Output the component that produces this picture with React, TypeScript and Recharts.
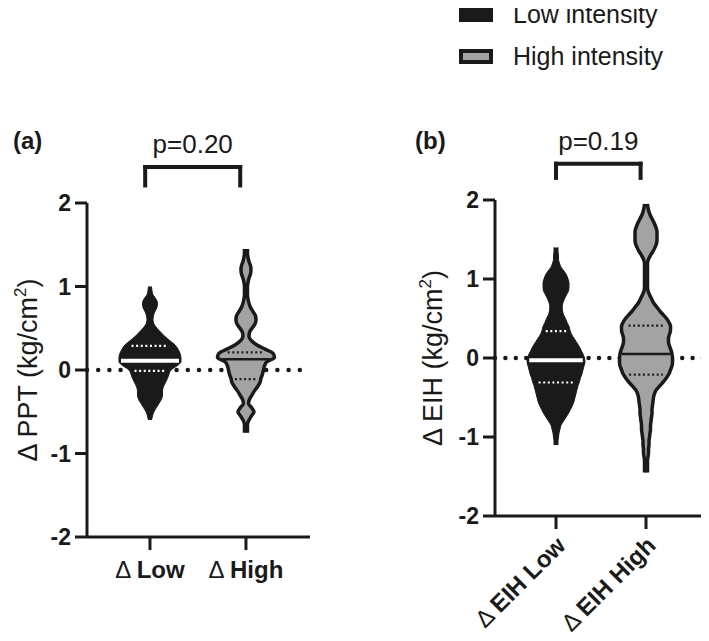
import React from 'react';
import { ComposedChart, Area, XAxis, YAxis, ReferenceLine, Label, CartesianGrid } from 'recharts';

const FONT = '"Liberation Sans", Arial, Helvetica, sans-serif';
const INK = '#1a1a1a';
const GRAY = '#a3a3a3';

const legendNames = ['Low intensity', 'High intensity'];
const violinFills = [INK, GRAY];
const yTicks = [-2, -1, 0, 1, 2];
const categoryTicks = [1, 2];
const zeroLine = [0];

const pptCategories = ['Low', 'High'];
const eihCategories = ['EIH Low', 'EIH High'];
const pptPValue = 'p=0.20';
const eihPValue = 'p=0.19';

// [q1, median, q3]
const pptLowQuartiles = [-0.01, 0.11, 0.29];
const pptHighQuartiles = [-0.11, 0.13, 0.21];
const eihLowQuartiles = [-0.31, -0.03, 0.34];
const eihHighQuartiles = [-0.21, 0.05, 0.41];

// violin density profiles: [level, density]
const pptLowProfile = [
  [1.0, 1.5], [0.95, 2], [0.9, 3], [0.85, 6], [0.8, 7.5], [0.75, 7], [0.7, 5], [0.65, 3.5],
  [0.6, 3], [0.55, 4], [0.5, 7], [0.45, 11], [0.4, 15], [0.35, 20], [0.3, 25], [0.25, 28],
  [0.2, 30], [0.15, 31], [0.1, 31], [0.05, 27], [0.0, 21], [-0.05, 19], [-0.1, 17.5],
  [-0.15, 15.5], [-0.2, 13.5], [-0.25, 12.5], [-0.3, 12.5], [-0.35, 11.5], [-0.4, 9],
  [-0.45, 6.5], [-0.5, 4], [-0.55, 2.5], [-0.6, 1.5],
];
const pptHighProfile = [
  [1.45, 1.5], [1.4, 1.5], [1.35, 2], [1.3, 3], [1.25, 4.5], [1.2, 5], [1.15, 4.5], [1.1, 3],
  [1.05, 2], [1.0, 1.5], [0.95, 1.5], [0.9, 1.5], [0.85, 2], [0.8, 3], [0.75, 4.5], [0.7, 7],
  [0.65, 9.5], [0.6, 10], [0.55, 9], [0.5, 6], [0.45, 3.5], [0.4, 3], [0.35, 5.5], [0.3, 11],
  [0.25, 19], [0.2, 27], [0.15, 28.5], [0.1, 21], [0.05, 18.5], [0.0, 17.5], [-0.05, 16.5],
  [-0.1, 15], [-0.15, 14], [-0.2, 11.5], [-0.25, 8.5], [-0.3, 6], [-0.35, 3.5], [-0.4, 2.5],
  [-0.45, 5.5], [-0.5, 8], [-0.55, 5.5], [-0.6, 3], [-0.65, 1.5], [-0.7, 1.5], [-0.75, 1.5],
];
const eihLowProfile = [
  [1.4, 2], [1.35, 2], [1.3, 2.5], [1.25, 2.5], [1.2, 3.5], [1.15, 5], [1.1, 8], [1.05, 10.5],
  [1.0, 12], [0.95, 13], [0.9, 13], [0.85, 12.5], [0.8, 10.5], [0.75, 8.5], [0.7, 7], [0.65, 6.2],
  [0.6, 6.5], [0.55, 7.5], [0.5, 9.5], [0.45, 11], [0.4, 13], [0.35, 14], [0.3, 15.5],
  [0.25, 18], [0.2, 20.5], [0.15, 23], [0.1, 25], [0.05, 27], [0.0, 28.5], [-0.05, 29],
  [-0.1, 28], [-0.15, 27], [-0.2, 26], [-0.25, 24.5], [-0.3, 23.5], [-0.35, 22], [-0.4, 21],
  [-0.45, 20], [-0.5, 19], [-0.55, 18], [-0.6, 16.5], [-0.65, 14.5], [-0.7, 12.5], [-0.75, 10],
  [-0.8, 7.5], [-0.85, 5], [-0.9, 4], [-0.95, 3], [-1.0, 2.5], [-1.05, 2], [-1.1, 2],
];
const eihHighProfile = [
  [1.95, 1.5], [1.9, 2], [1.85, 3], [1.8, 4.5], [1.75, 6.5], [1.7, 8.5], [1.65, 10], [1.6, 11],
  [1.55, 11], [1.5, 11], [1.45, 10.5], [1.4, 9], [1.35, 7], [1.3, 4.5], [1.25, 2.5], [1.2, 1.5],
  [1.15, 1.5], [1.1, 1.5], [1.05, 1.5], [1.0, 1.5], [0.95, 1.5], [0.9, 1.5], [0.85, 2],
  [0.8, 3.5], [0.75, 5.5], [0.7, 7.5], [0.65, 10.5], [0.6, 13.5], [0.55, 17], [0.5, 20.5],
  [0.45, 23], [0.4, 24.5], [0.35, 24.5], [0.3, 23.5], [0.25, 22.5], [0.2, 22.5], [0.15, 23.5],
  [0.1, 25], [0.05, 26], [0.0, 26.5], [-0.05, 26.5], [-0.1, 26], [-0.15, 24.5], [-0.2, 23],
  [-0.25, 20.5], [-0.3, 17.5], [-0.35, 14], [-0.4, 10.5], [-0.45, 8.5], [-0.5, 7.5], [-0.55, 7],
  [-0.6, 6.5], [-0.65, 6], [-0.7, 6], [-0.75, 5.5], [-0.8, 5], [-0.85, 4.5], [-0.9, 4.5],
  [-0.95, 4], [-1.0, 3.5], [-1.05, 3], [-1.1, 3], [-1.15, 2.5], [-1.2, 2.5], [-1.25, 2],
  [-1.3, 1.5], [-1.35, 1.5], [-1.4, 1.5], [-1.45, 1.5],
];

const SERIES_KEYS = ['low', 'high'];

function buildRows(profiles: number[][][], unit: number) {
  const map = new Map<string, any>();
  profiles.forEach((prof, i) => {
    const center = categoryTicks[i];
    prof.forEach(([lvl, d]) => {
      const k = lvl.toFixed(2);
      if (!map.has(k)) map.set(k, { y: lvl });
      const w = d * unit;
      map.get(k)[SERIES_KEYS[i]] = [center - w, center + w];
    });
  });
  const rows = Array.from(map.values()).sort((a, b) => b.y - a.y);
  rows.forEach((r) => SERIES_KEYS.forEach((k) => { if (!(k in r)) r[k] = [null, null]; }));
  return rows;
}

function densityAt(profile: number[][], level: number) {
  for (let i = 0; i < profile.length - 1; i++) {
    const [y0, d0] = profile[i];
    const [y1, d1] = profile[i + 1];
    if (level <= y0 && level >= y1) {
      const t = (level - y0) / (y1 - y0);
      return d0 + t * (d1 - d0);
    }
  }
  return 0;
}

const FlatTick = (names: string[]) => (props: any) => {
  const { x, y, payload } = props;
  const name = names[payload.value - 1];
  return (
    <text x={x} y={y + 26} textAnchor="middle" fontFamily={FONT} fontSize={24} fill={INK}>
      <tspan fontWeight={400}>Δ </tspan>
      <tspan fontWeight={700}>{name}</tspan>
    </text>
  );
};

const SlantTick = (names: string[]) => (props: any) => {
  const { x, y, payload } = props;
  const name = names[payload.value - 1];
  return (
    <text
      transform={`translate(${x + 11},${y + 16}) rotate(-45)`}
      textAnchor="end"
      fontFamily={FONT}
      fontSize={24}
      fill={INK}
    >
      <tspan fontWeight={400}>Δ </tspan>
      <tspan fontWeight={700}>{name}</tspan>
    </text>
  );
};

const panels = [
  {
    key: 'ppt',
    letter: '(a)',
    title: 'Δ PPT (kg/cm',
    categories: pptCategories,
    profiles: [pptLowProfile, pptHighProfile],
    quartiles: [pptLowQuartiles, pptHighQuartiles],
    pValue: pptPValue,
    left: 0,
    width: 360,
    top: 203,
    right: 50,
    yAxisWidth: 87,
    xAxisHeight: 104,
    domain: [0.344, 2.667],
    pxPerUnit: 96,
    titleX: 37,
    dotGap: 11.2,
    bracketX: [0.95, 1.94],
    bracketY: [2.21, 2.43],
    tick: FlatTick(pptCategories),
    letterX: 13,
  },
  {
    key: 'eih',
    letter: '(b)',
    title: 'Δ EIH (kg/cm',
    categories: eihCategories,
    profiles: [eihLowProfile, eihHighProfile],
    quartiles: [eihLowQuartiles, eihHighQuartiles],
    pValue: eihPValue,
    left: 360,
    width: 349,
    top: 200,
    right: 0,
    yAxisWidth: 135,
    xAxisHeight: 125,
    domain: [0.322, 2.7],
    pxPerUnit: 90,
    titleX: 82,
    dotGap: 10.4,
    bracketX: [1.0, 1.94],
    bracketY: [2.28, 2.46],
    tick: SlantTick(eihCategories),
    letterX: 415,
  },
];

function Panel({ p }: { p: any }) {
  const unit = 1 / p.pxPerUnit;
  const rows = buildRows(p.profiles, unit);
  const axisStyle = { stroke: INK, strokeWidth: 3 };
  const [bx1, bx2] = p.bracketX;
  const [by1, by2] = p.bracketY;
  return (
    <div style={{ position: 'absolute', left: p.left, top: 0 }}>
      <ComposedChart
        layout="vertical"
        width={p.width}
        height={641}
        data={rows}
        margin={{ top: p.top, right: p.right, bottom: 0, left: 0 }}
      >
        <CartesianGrid
          vertical={false}
          horizontalValues={zeroLine}
          fill="none"
          horizontal={(lp: any) => (
            <line
              key={lp.key}
              x1={lp.x1}
              y1={lp.y1}
              x2={lp.x2}
              y2={lp.y2}
              stroke={INK}
              strokeWidth={4.5}
              strokeDasharray={`0 ${p.dotGap}`}
              strokeLinecap="round"
            />
          )}
        />
        <XAxis
          type="number"
          domain={p.domain}
          ticks={categoryTicks}
          allowDataOverflow
          interval={0}
          height={p.xAxisHeight}
          axisLine={axisStyle}
          tickLine={axisStyle}
          tickSize={13}
          tick={p.tick}
        />
        <YAxis
          type="number"
          dataKey="y"
          reversed
          domain={[-2, 2]}
          ticks={yTicks}
          allowDataOverflow
          interval={0}
          width={p.yAxisWidth}
          axisLine={axisStyle}
          tickLine={axisStyle}
          tickSize={12}
          tickMargin={4}
          tick={{ fontSize: 23, fontWeight: 700, fill: INK, fontFamily: FONT }}
        >
          <Label
            content={(lp: any) => {
              const vb = lp.viewBox || { y: 0, height: 0 };
              const cy = vb.y + vb.height / 2;
              return (
                <text
                  transform={`translate(${p.titleX},${cy}) rotate(-90)`}
                  textAnchor="middle"
                  fontFamily={FONT}
                  fontSize={27}
                  fill={INK}
                >
                  {p.title}
                  <tspan dy={-11} fontSize={17}>2</tspan>
                  <tspan dy={11}>)</tspan>
                </text>
              );
            }}
          />
        </YAxis>
        {SERIES_KEYS.map((k, i) => (
          <Area
            key={k}
            dataKey={k}
            type="monotone"
            fill={violinFills[i]}
            fillOpacity={1}
            stroke={INK}
            strokeWidth={i === 0 ? 1 : 3.5}
            dot={false}
            activeDot={false}
            isAnimationActive={false}
          />
        ))}
        {p.quartiles.map((q: number[], i: number) => {
          const c = categoryTicks[i];
          const lineColor = i === 0 ? '#ffffff' : INK;
          const [q1, med, q3] = q;
          const wMed = Math.max(densityAt(p.profiles[i], med) - 2, 1) * unit;
          const wQ1 = densityAt(p.profiles[i], q1) * 0.75 * unit;
          const wQ3 = densityAt(p.profiles[i], q3) * 0.72 * unit;
          return (
            <React.Fragment key={`q${i}`}>
              <ReferenceLine
                segment={[{ x: c - wMed, y: med }, { x: c + wMed, y: med }]}
                stroke={lineColor}
                strokeWidth={i === 0 ? 4 : 2.5}
              />
              <ReferenceLine
                segment={[{ x: c - wQ1, y: q1 }, { x: c + wQ1, y: q1 }]}
                stroke={lineColor}
                strokeWidth={2.2}
                strokeDasharray="2 2.6"
              />
              <ReferenceLine
                segment={[{ x: c - wQ3, y: q3 }, { x: c + wQ3, y: q3 }]}
                stroke={lineColor}
                strokeWidth={2.2}
                strokeDasharray="2 2.6"
              />
            </React.Fragment>
          );
        })}
        <ReferenceLine
          segment={[{ x: bx1, y: by1 }, { x: bx1, y: by2 }]}
          stroke={INK}
          strokeWidth={4}
          strokeLinecap="square"
          ifOverflow="visible"
        />
        <ReferenceLine
          segment={[{ x: bx2, y: by1 }, { x: bx2, y: by2 }]}
          stroke={INK}
          strokeWidth={4}
          strokeLinecap="square"
          ifOverflow="visible"
        />
        <ReferenceLine
          segment={[{ x: bx1, y: by2 }, { x: bx2, y: by2 }]}
          stroke={INK}
          strokeWidth={4}
          strokeLinecap="square"
          ifOverflow="visible"
          label={{
            value: p.pValue,
            position: 'top',
            offset: 14,
            fontFamily: FONT,
            fontSize: 26,
            fill: INK,
          }}
        />
      </ComposedChart>
    </div>
  );
}

export default function App() {
  return (
    <div style={{ position: 'relative', width: 709, height: 641, margin: -8, background: '#fff', overflow: 'hidden' }}>
      {panels.map((p) => (
        <Panel key={p.key} p={p} />
      ))}
      {panels.map((p) => (
        <div
          key={`${p.key}-letter`}
          style={{
            position: 'absolute',
            left: p.letterX,
            top: 129,
            fontFamily: FONT,
            fontWeight: 700,
            fontSize: 24,
            lineHeight: '24px',
            color: INK,
          }}
        >
          {p.letter}
        </div>
      ))}
      <div style={{ position: 'absolute', left: 459, top: 7 }}>
        {legendNames.map((n, i) => (
          <div key={n} style={{ position: 'relative', height: 15, marginBottom: 27 }}>
            <div
              style={{
                position: 'absolute',
                left: 0,
                top: 0,
                width: 34,
                height: 15,
                boxSizing: 'border-box',
                background: violinFills[i],
                border: `4px solid ${INK}`,
              }}
            />
            <div
              style={{
                position: 'absolute',
                left: 54,
                top: -8,
                fontFamily: FONT,
                fontSize: 25,
                color: INK,
                lineHeight: '30px',
                whiteSpace: 'nowrap',
              }}
            >
              {n}
            </div>
          </div>
        ))}
      </div>
    </div>
  );
}
